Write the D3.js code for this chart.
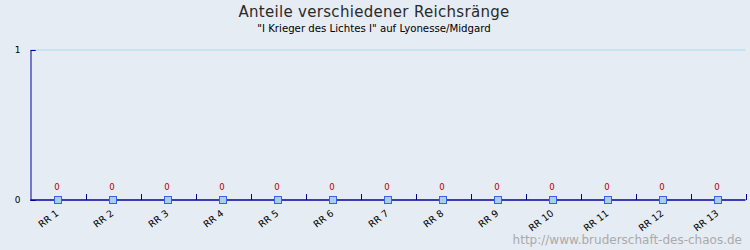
<!DOCTYPE html>
<html>
<head>
<meta charset="utf-8">
<script src="https://cdn.jsdelivr.net/npm/d3@7"></script>
<style>
  html, body { margin: 0; padding: 0; background: #e6ecf3; }
  svg { display: block; }
</style>
</head>
<body>
<svg id="chart" width="750" height="250"></svg>
<script>
// Ranks and their shares
const ranks = ["RR 1","RR 2","RR 3","RR 4","RR 5","RR 6","RR 7","RR 8","RR 9","RR 10","RR 11","RR 12","RR 13"];
const shares = [0,0,0,0,0,0,0,0,0,0,0,0,0];
const yTicks = [0, 1];

const W = 750, H = 250;
const margin = { left: 30.5, right: 4.5, top: 50, bottom: 50 };
const svg = d3.select("#chart");
const font = "DejaVu Sans, sans-serif";

svg.append("rect").attr("width", W).attr("height", H).attr("fill", "#e6ecf3");

const x = d3.scaleBand().domain(ranks).range([margin.left, W - margin.right]);
const y = d3.scaleLinear().domain([0, 1]).range([H - margin.bottom, margin.top]);

// grid line at the top value
svg.append("g").selectAll("line").data(yTicks.filter(t => t > 0)).join("line")
  .attr("x1", margin.left).attr("x2", W - margin.right)
  .attr("y1", d => y(d)).attr("y2", d => y(d))
  .attr("stroke", "#a8dce8").attr("stroke-width", 1);

// y axis
const yAxis = svg.append("g").attr("transform", `translate(${margin.left},0)`)
  .call(d3.axisRight(y).tickValues(yTicks).tickSize(5).tickFormat(d3.format("d")));
yAxis.select(".domain").attr("stroke", "#0000a0");
yAxis.selectAll(".tick line").attr("stroke", "#0000a0");
yAxis.selectAll(".tick text").attr("x", -10).attr("text-anchor", "end")
  .attr("font-family", font).attr("font-size", 9).attr("fill", "#000");

// x axis with band boundaries as ticks
const xAxisG = svg.append("g").attr("transform", `translate(0,${y(0)})`);
xAxisG.append("line").attr("x1", margin.left).attr("x2", W - margin.right)
  .attr("stroke", "#0000a0").attr("stroke-width", 1.5);
xAxisG.selectAll("line.b").data(ranks).join("line").attr("class", "b")
  .attr("x1", d => Math.round(x(d) + x.bandwidth()) + 0.5)
  .attr("x2", d => Math.round(x(d) + x.bandwidth()) + 0.5)
  .attr("y1", -6).attr("y2", 0).attr("stroke", "#0000a0");
xAxisG.selectAll("text").data(ranks).join("text")
  .attr("transform", d => `translate(${x(d) + x.bandwidth() / 2 - 3},${9}) rotate(-37)`)
  .attr("text-anchor", "end").attr("dy", "0.75em")
  .attr("font-family", font).attr("font-size", 9.5).attr("fill", "#000")
  .text(d => d);

// markers
svg.append("g").selectAll("rect").data(ranks).join("rect")
  .attr("x", d => Math.round(x(d) + x.bandwidth() / 2) - 3.5)
  .attr("y", (d, i) => Math.round(y(shares[i])) - 3.5)
  .attr("width", 7).attr("height", 7)
  .attr("fill", "#a9cdee").attr("stroke", "#3a63e0").attr("stroke-width", 1);

// value labels
svg.append("g").selectAll("text").data(ranks).join("text")
  .attr("x", d => x(d) + x.bandwidth() / 2 - 1)
  .attr("y", (d, i) => y(shares[i]) - 10)
  .attr("text-anchor", "middle")
  .attr("font-family", font).attr("font-size", 8.5).attr("fill", "#b00000")
  .text((d, i) => shares[i]);

// titles
svg.append("text").attr("x", 374).attr("y", 17).attr("text-anchor", "middle")
  .attr("font-family", font).attr("font-size", 15).attr("fill", "#2a2a2a")
  .attr("letter-spacing", 0.3)
  .text("Anteile verschiedener Reichsränge");
svg.append("text").attr("x", 374).attr("y", 32).attr("text-anchor", "middle")
  .attr("font-family", font).attr("font-size", 10.2).attr("fill", "#000")
  .text("\"I Krieger des Lichtes I\" auf Lyonesse/Midgard");

// footer link text
svg.append("text").attr("x", 742).attr("y", 244).attr("text-anchor", "end")
  .attr("font-family", font).attr("font-size", 12).attr("fill", "#aaaaaa")
  .text("http://www.bruderschaft-des-chaos.de");
</script>
</body>
</html>
